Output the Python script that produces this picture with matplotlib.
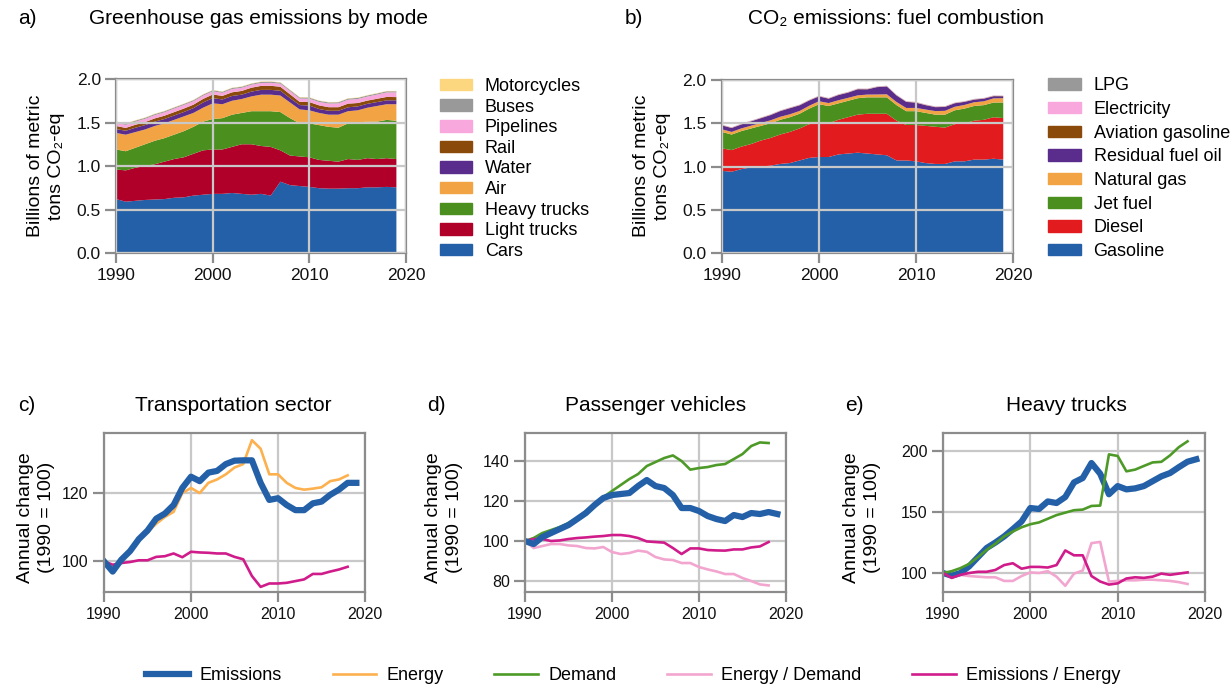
import numpy as np
import matplotlib.pyplot as plt
from matplotlib.patches import Patch
from matplotlib.lines import Line2D

plt.rcParams['font.family'] = ['Liberation Sans', 'DejaVu Sans']

years = np.arange(1990, 2020)

# a) greenhouse gas emissions by mode (billions of metric tons CO2-eq)
cars = [0.62, 0.59, 0.60, 0.61, 0.615, 0.62, 0.635, 0.64, 0.66, 0.67,
        0.68, 0.68, 0.69, 0.68, 0.67, 0.68, 0.66, 0.82, 0.78, 0.77,
        0.76, 0.745, 0.74, 0.74, 0.745, 0.745, 0.755, 0.755, 0.76, 0.755]
light_trucks = [0.34, 0.36, 0.38, 0.39, 0.405, 0.43, 0.445, 0.46, 0.48, 0.51,
                0.51, 0.51, 0.53, 0.57, 0.58, 0.55, 0.56, 0.36, 0.34, 0.34,
                0.34, 0.325, 0.32, 0.31, 0.335, 0.325, 0.335, 0.325, 0.33, 0.325]
heavy_trucks = [0.23, 0.22, 0.23, 0.25, 0.27, 0.27, 0.28, 0.30, 0.31, 0.33,
                0.35, 0.36, 0.37, 0.36, 0.38, 0.40, 0.41, 0.44, 0.43, 0.38,
                0.39, 0.40, 0.39, 0.39, 0.41, 0.43, 0.42, 0.43, 0.44, 0.44]
air = [0.19, 0.19, 0.18, 0.17, 0.17, 0.17, 0.17, 0.17, 0.16, 0.16,
       0.18, 0.16, 0.16, 0.16, 0.17, 0.19, 0.19, 0.19, 0.18, 0.16,
       0.15, 0.14, 0.14, 0.15, 0.14, 0.14, 0.16, 0.18, 0.18, 0.19]
water = [0.045, 0.045, 0.05, 0.05, 0.05, 0.05, 0.05, 0.05, 0.055, 0.06,
         0.06, 0.055, 0.055, 0.05, 0.055, 0.055, 0.055, 0.055, 0.05, 0.05,
         0.055, 0.045, 0.045, 0.045, 0.045, 0.045, 0.045, 0.045, 0.045, 0.045]
rail = [0.035, 0.033, 0.034, 0.035, 0.037, 0.038, 0.039, 0.040, 0.040, 0.041,
        0.042, 0.041, 0.042, 0.043, 0.045, 0.046, 0.047, 0.046, 0.044, 0.037,
        0.040, 0.042, 0.041, 0.041, 0.042, 0.039, 0.037, 0.038, 0.039, 0.037]
pipelines = [0.036, 0.035, 0.036, 0.037, 0.038, 0.039, 0.041, 0.041, 0.039, 0.038,
             0.036, 0.035, 0.038, 0.036, 0.034, 0.033, 0.034, 0.035, 0.036, 0.038,
             0.038, 0.039, 0.042, 0.044, 0.045, 0.046, 0.046, 0.048, 0.052, 0.054]
buses = [0.012] * 15 + [0.013] * 15
motorcycles = [0.004] * 30

mode_names = ["Cars", "Light trucks", "Heavy trucks", "Air", "Water", "Rail",
              "Pipelines", "Buses", "Motorcycles"]
mode_colors = ["#2460a7", "#b0002a", "#4b901f", "#f2a444", "#5a2d8c", "#8a4b0a",
               "#f8a8dc", "#999999", "#fdd780"]

# b) CO2 emissions from fuel combustion
gasoline = [0.95, 0.94, 0.97, 0.99, 1.00, 1.01, 1.03, 1.04, 1.07, 1.10,
            1.11, 1.11, 1.14, 1.15, 1.16, 1.15, 1.14, 1.13, 1.07, 1.07,
            1.06, 1.04, 1.03, 1.03, 1.06, 1.06, 1.08, 1.08, 1.09, 1.08]
diesel = [0.26, 0.25, 0.26, 0.27, 0.30, 0.32, 0.34, 0.36, 0.37, 0.39,
          0.39, 0.39, 0.40, 0.42, 0.44, 0.46, 0.47, 0.48, 0.46, 0.41,
          0.42, 0.43, 0.43, 0.42, 0.43, 0.44, 0.45, 0.46, 0.48, 0.48]
jet_fuel = [0.19, 0.18, 0.18, 0.18, 0.17, 0.17, 0.17, 0.17, 0.17, 0.18,
            0.22, 0.20, 0.19, 0.19, 0.19, 0.19, 0.19, 0.19, 0.18, 0.16,
            0.16, 0.15, 0.14, 0.15, 0.16, 0.17, 0.17, 0.17, 0.17, 0.18]
natural_gas = [0.030, 0.030, 0.031, 0.032, 0.033, 0.034, 0.035, 0.034, 0.032, 0.033,
               0.035, 0.034, 0.036, 0.034, 0.033, 0.032, 0.033, 0.035, 0.036, 0.037,
               0.038, 0.039, 0.041, 0.044, 0.041, 0.042, 0.043, 0.044, 0.048, 0.050]
residual_oil = [0.045, 0.045, 0.045, 0.050, 0.055, 0.060, 0.065, 0.070, 0.065, 0.060,
                0.055, 0.050, 0.060, 0.060, 0.070, 0.060, 0.085, 0.090, 0.075, 0.070,
                0.060, 0.050, 0.045, 0.045, 0.040, 0.035, 0.030, 0.030, 0.025, 0.022]
aviation_gasoline = [0.003] * 30
electricity = [0.004] * 30
lpg = [0.002] * 30

fuel_names = ["Gasoline", "Diesel", "Jet fuel", "Natural gas", "Residual fuel oil",
              "Aviation gasoline", "Electricity", "LPG"]
fuel_colors = ["#2460a7", "#e21b1f", "#4b901f", "#f2a444", "#5a2d8c", "#8a4b0a",
               "#f8a8dc", "#999999"]

# c) transportation sector (1990 = 100)
c_emissions = [100, 97, 100.5, 103, 106.5, 109, 112.5, 114, 116.5, 121.5,
               124.8, 123.5, 126, 126.5, 128.5, 129.5, 129.6, 129.6, 123, 118,
               118.5, 116.5, 115, 115, 117, 117.5, 119.5, 121, 123, 123]
c_energy = [100, 98, 100.8, 103.5, 106.5, 108.5, 111, 113, 114.5, 120,
            121.5, 120, 123, 124, 125.5, 127.5, 128.5, 135.5, 133, 125.5,
            125.5, 123, 121.5, 121, 121.3, 121.7, 123.5, 124, 125.2]
c_emis_energy = [100, 99, 99.5, 99.8, 100.3, 100.3, 101.3, 101.5, 102.3, 101.2,
                 102.8, 102.6, 102.5, 102.3, 102.3, 101.3, 100.6, 95.7, 92.5, 93.5,
                 93.5, 93.7, 94.2, 94.7, 96.3, 96.3, 97, 97.6, 98.4]

# d) passenger vehicles
d_emissions = [100, 98.5, 102, 104, 106, 108, 111, 114, 118, 121.5,
               123, 123.5, 124, 127.5, 130.5, 127.5, 126.5, 123, 116.5, 116.5,
               115, 112.5, 111, 110, 113, 112, 114, 113.5, 114.5, 113.5]
d_demand = [100, 101.5, 104, 105.5, 107, 109, 111.5, 115, 118.5, 122,
            125, 128, 131, 133.5, 137.5, 139.5, 141.5, 142.8, 140, 135.7,
            136.5, 137, 138, 138.5, 141, 143.5, 147.5, 149.3, 149]
d_energy_demand = [100, 96.5, 97.5, 98.5, 98.5, 97.8, 97.5, 96.5, 96.3, 97,
                   94.5, 93.5, 94, 95.2, 94.6, 92, 90.8, 90.5, 89, 89,
                   87, 85.8, 84.8, 83.5, 83.5, 81.5, 80, 78.3, 77.8]
d_emis_energy = [100, 101, 101, 100, 100.3, 101, 101.5, 101.8, 102.2, 102.5,
                 103, 103, 102.5, 101.5, 99.8, 99.5, 99.2, 96.5, 93.5, 96.3,
                 96.3, 95.5, 95.3, 95.2, 95.8, 95.8, 96.8, 97.3, 99.5]

# e) heavy trucks
e_emissions = [100, 97.8, 100, 105.5, 113, 120.5, 125, 130, 136, 142.3,
               153.3, 152.5, 158.7, 157.4, 162.3, 174.3, 177.9, 190.2, 181.4, 164.6,
               171.3, 168.6, 169.4, 171.3, 175.3, 179.3, 182, 186.8, 191.3, 193.3]
e_demand = [100, 101.5, 104, 107.5, 113, 119, 124, 130, 134, 137.5,
            140, 141.5, 144.5, 147.5, 149.5, 151.5, 152, 155, 155.3, 197.3,
            196, 183.4, 184.8, 187.8, 190.7, 191.2, 196.5, 203.2, 208]
e_energy_demand = [100, 99, 98.5, 97.5, 97, 96.5, 96.5, 93.5, 93.5, 97.5,
                   100.5, 100, 101.5, 97, 89.5, 99.5, 102, 124.5, 125.5, 93,
                   93.5, 94, 94, 94.5, 94.5, 94, 93.5, 92.5, 91]
e_emis_energy = [100, 96, 98.5, 100, 101, 101, 102.5, 106.5, 108, 103.5,
                 105, 105, 104.5, 106.5, 118.5, 114.5, 114.5, 97.5, 93, 90.5,
                 91.5, 95.5, 96.5, 96, 97, 99.5, 98.5, 99.5, 100.5]

c_emis = "#2460a7"
c_ener = "#fdb04e"
c_dem = "#4e9a28"
c_ed = "#f2a6cf"
c_ee = "#d01c8b"

spine_col = "#8c8c8c"
grid_col = "#c8c8c8"


def style_axes(ax, yticks, ylim, tick_size):
    ax.set_xlim(1990, 2020)
    ax.set_ylim(*ylim)
    ax.set_xticks([1990, 2000, 2010, 2020])
    ax.set_yticks(yticks)
    ax.grid(True, color=grid_col, linewidth=1.6)
    for sp in ax.spines.values():
        sp.set_color(spine_col)
        sp.set_linewidth(1.6)
    ax.tick_params(axis='both', colors=spine_col, width=1.6, labelcolor="#111111",
                   labelsize=tick_size)
    ax.tick_params(axis='y', length=8, pad=3)
    ax.tick_params(axis='x', length=7, pad=4)


fig = plt.figure(figsize=(12.32, 6.9), dpi=100)

# panel a
ax_a = fig.add_axes([0.0942, 0.6333, 0.2354, 0.2522])
ax_a.stackplot(years, cars, light_trucks, heavy_trucks, air, water, rail,
               pipelines, buses, motorcycles, colors=mode_colors, linewidth=0)
style_axes(ax_a, [0, 0.5, 1.0, 1.5, 2.0], (0, 2.0), 12.5)
ax_a.set_yticklabels(["0.0", "0.5", "1.0", "1.5", "2.0"])
ax_a.set_axisbelow(False)

# panel b
ax_b = fig.add_axes([0.586, 0.6333, 0.2362, 0.2507])
ax_b.stackplot(years, gasoline, diesel, jet_fuel, natural_gas, residual_oil,
               aviation_gasoline, electricity, lpg, colors=fuel_colors, linewidth=0)
style_axes(ax_b, [0, 0.5, 1.0, 1.5, 2.0], (0, 2.0), 12.5)
ax_b.set_yticklabels(["0.0", "0.5", "1.0", "1.5", "2.0"])
ax_b.set_axisbelow(False)

# panel c
ax_c = fig.add_axes([0.0844, 0.142, 0.2119, 0.2304])
ax_c.plot(years[:29], c_energy, color=c_ener, lw=1.9)
ax_c.plot(years[:29], c_emis_energy, color=c_ee, lw=1.9)
ax_c.plot(years, c_emissions, color=c_emis, lw=4.5)
style_axes(ax_c, [100, 120], (91, 137.6), 11.5)

# panel d
ax_d = fig.add_axes([0.4261, 0.142, 0.2119, 0.2304])
ax_d.plot(years[:29], d_demand, color=c_dem, lw=1.9)
ax_d.plot(years[:29], d_energy_demand, color=c_ed, lw=1.9)
ax_d.plot(years[:29], d_emis_energy, color=c_ee, lw=1.9)
ax_d.plot(years, d_emissions, color=c_emis, lw=4.5)
style_axes(ax_d, [80, 100, 120, 140], (74.5, 154), 11.5)

# panel e
ax_e = fig.add_axes([0.7654, 0.142, 0.2127, 0.2304])
ax_e.plot(years[:29], e_energy_demand, color=c_ed, lw=1.9)
ax_e.plot(years, e_emissions, color=c_emis, lw=4.5)
ax_e.plot(years[:29], e_demand, color=c_dem, lw=1.9)
ax_e.plot(years[:29], e_emis_energy, color=c_ee, lw=1.9)
style_axes(ax_e, [100, 150, 200], (84.4, 214.8), 11.5)

# titles
fig.text(0.0146, 0.9725, "a)", fontsize=15, va='center')
fig.text(0.2097, 0.9725, "Greenhouse gas emissions by mode", fontsize=15,
         ha='center', va='center')
fig.text(0.507, 0.9725, "b)", fontsize=15, va='center')
fig.text(0.727, 0.9725, "CO\u2082 emissions: fuel combustion", fontsize=15,
         ha='center', va='center')
fig.text(0.0146, 0.413, "c)", fontsize=15, va='center')
fig.text(0.189, 0.413, "Transportation sector", fontsize=15, ha='center', va='center')
fig.text(0.347, 0.413, "d)", fontsize=15, va='center')
fig.text(0.532, 0.413, "Passenger vehicles", fontsize=15, ha='center', va='center')
fig.text(0.686, 0.413, "e)", fontsize=15, va='center')
fig.text(0.866, 0.413, "Heavy trucks", fontsize=15, ha='center', va='center')

# y labels
ylab_a = "Billions of metric\ntons CO\u2082-eq"
fig.text(0.0375, 0.759, ylab_a, fontsize=14, rotation=90, ha='center',
         va='center', multialignment='center', linespacing=1.3)
fig.text(0.529, 0.759, ylab_a, fontsize=14, rotation=90, ha='center',
         va='center', multialignment='center', linespacing=1.3)
ylab_c = "Annual change\n(1990 = 100)"
for xpos in [0.0295, 0.3605, 0.6995]:
    fig.text(xpos, 0.25, ylab_c, fontsize=14, rotation=90, ha='center',
             va='center', multialignment='center', linespacing=1.3)

# legends
handles_a = [Patch(color=c) for c in mode_colors][::-1]
fig.legend(handles_a, mode_names[::-1], loc='upper left', bbox_to_anchor=(0.357, 0.887),
           frameon=False, fontsize=13, borderpad=0, borderaxespad=0,
           handlelength=1.8, handleheight=0.6, handletextpad=0.7, labelspacing=0.2)

handles_b = [Patch(color=c) for c in fuel_colors][::-1]
fig.legend(handles_b, fuel_names[::-1], loc='upper left', bbox_to_anchor=(0.851, 0.888),
           frameon=False, fontsize=13, borderpad=0, borderaxespad=0,
           handlelength=1.8, handleheight=0.6, handletextpad=0.7, labelspacing=0.37)

line_handles = [Line2D([], [], color=c_emis, lw=4.5),
                Line2D([], [], color=c_ener, lw=1.9),
                Line2D([], [], color=c_dem, lw=1.9),
                Line2D([], [], color=c_ed, lw=1.9),
                Line2D([], [], color=c_ee, lw=1.9)]
line_names = ["Emissions", "Energy", "Demand", "Energy / Demand", "Emissions / Energy"]
fig.legend(line_handles, line_names, loc='center', bbox_to_anchor=(0.514, 0.0203),
           ncol=5, frameon=False, fontsize=13, handlelength=2.4,
           handletextpad=0.6, columnspacing=2.8, borderaxespad=0)

fig.savefig("out.png", dpi=100)
